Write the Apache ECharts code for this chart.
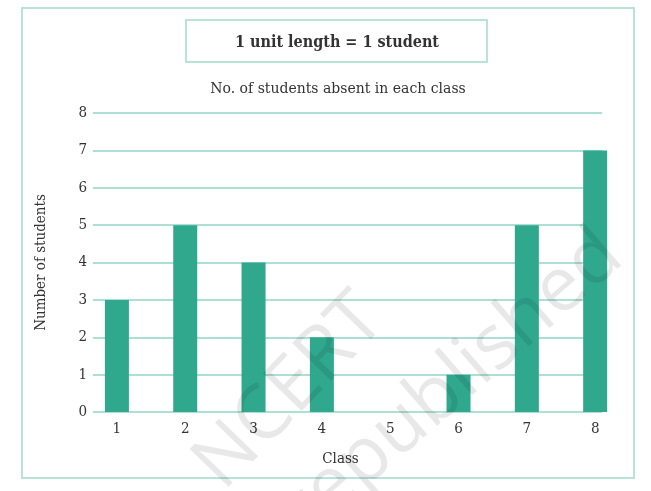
<!DOCTYPE html>
<html>
<head>
<meta charset="utf-8">
<script src="https://cdn.jsdelivr.net/npm/echarts@6/dist/echarts.min.js"></script>
<style>
  html, body { margin: 0; padding: 0; background: #fff; }
  #main { width: 651px; height: 491px; }
</style>
</head>
<body>
<div id="main"></div>
<script>
// data
var classes = [1, 2, 3, 4, 5, 6, 7, 8];
var absent = [3, 5, 4, 2, 0, 1, 5, 7];
var yTicks = [0, 1, 2, 3, 4, 5, 6, 7, 8];

var serif = "'DejaVu Serif', serif";
var serifC = "'DejaVu Serif Condensed', 'DejaVu Serif', serif";
var teal = '#30a88e';
var lineColor = '#ade0d4';

var chart = echarts.init(document.getElementById('main'));

var barData = classes.map(function (c, i) { return [c, absent[i]]; });

var option = {
    backgroundColor: '#fff',
    animation: false,
    grid: { left: 93, right: 49, top: 113, bottom: 79 },
    xAxis: {
        type: 'value',
        min: 0.65,
        max: 8.1,
        name: 'Class',
        nameLocation: 'middle',
        nameGap: 40,
        nameTextStyle: { fontFamily: serifC, fontSize: 15, color: '#333', padding: [0, 14, 0, 0] },
        axisLine: { show: false },
        axisTick: { show: false },
        splitLine: { show: false },
        axisLabel: {
            customValues: classes,
            margin: 10,
            fontFamily: serifC, fontSize: 15, color: '#333'
        }
    },
    yAxis: {
        type: 'value',
        min: yTicks[0],
        max: yTicks[yTicks.length - 1],
        interval: 1,
        name: 'Number of students',
        nameLocation: 'middle',
        nameGap: 44,
        nameTextStyle: { fontFamily: serifC, fontSize: 15, color: '#333' },
        axisLine: { show: false },
        axisTick: { show: false },
        axisLabel: { margin: 6, fontFamily: serifC, fontSize: 15, color: '#333' },
        splitLine: { lineStyle: { color: lineColor, width: 2 } }
    },
    series: [{
        type: 'bar',
        data: barData,
        barWidth: 24,
        clip: false,
        itemStyle: { color: teal }
    }],
    graphic: [
        // outer frame
        { type: 'rect', shape: { x: 22, y: 8, width: 612, height: 470 },
          style: { fill: null, stroke: '#b9e2d8', lineWidth: 2 }, z: 1 },
        // key box
        { type: 'rect', shape: { x: 186, y: 20, width: 301, height: 42 },
          style: { fill: null, stroke: '#b9e2d8', lineWidth: 2 }, z: 1 },
        { type: 'text', x: 337, y: 43,
          style: { text: '1 unit length = 1 student', fontFamily: serifC, fontSize: 16, fontWeight: 'bold',
                   fill: '#333', align: 'center', verticalAlign: 'middle' } },
        { type: 'text', x: 338, y: 89,
          style: { text: 'No. of students absent in each class', fontFamily: serif, fontSize: 14,
                   fill: '#333', align: 'center', verticalAlign: 'middle' } },
        // watermark
        { type: 'text', x: 290, y: 392, rotation: 46 * Math.PI / 180, z: 100,
          style: { text: 'NCERT', fontFamily: "'Open Sans', sans-serif", fontSize: 76,
                   fill: 'rgba(0,0,0,0.09)', align: 'center', verticalAlign: 'middle' } },
        { type: 'text', x: 452, y: 384, rotation: 41 * Math.PI / 180, z: 100,
          style: { text: 'republished', fontFamily: "'Open Sans', sans-serif", fontSize: 76,
                   fill: 'rgba(0,0,0,0.09)', align: 'center', verticalAlign: 'middle' } }
    ]
};

chart.setOption(option);
</script>
</body>
</html>
